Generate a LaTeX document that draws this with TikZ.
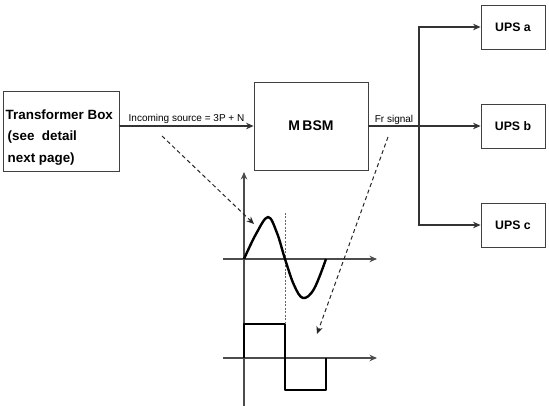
\documentclass[tikz,border=0pt]{standalone}
\usepackage{fontspec}
\setmainfont{Liberation Sans}
\usetikzlibrary{arrows.meta}
\tikzset{
  box/.style={draw=black!75, line width=0.9pt, rectangle, inner sep=0pt},
  conn/.style={draw=black!80, line width=1.2pt, -{Stealth[length=7.5pt,width=6.5pt]}},
  dasharrow/.style={draw=black!85, line width=1pt, dash pattern=on 4pt off 3pt, -{Stealth[length=7.5pt,width=6.5pt]}},
  axis/.style={draw=black!70, line width=1.1pt, -{Stealth[length=7.5pt,width=6.5pt]}},
  wave/.style={draw=black, line width=2.4pt, line join=round},
  lbl/.style={font=\fontsize{10}{12}\selectfont, inner sep=1pt},
  bigtxt/.style={font=\bfseries\fontsize{12.3}{14}\selectfont}
}
\begin{document}
\begin{tikzpicture}[x=1pt,y=-1pt]
\useasboundingbox (0,0) rectangle (549,406);
% boxes
\node[box, minimum width=116pt, minimum height=80pt] (tb) at (61,131) {};
\node[anchor=west, align=left, inner sep=0pt, font=\bfseries\fontsize{13.4}{21.5}\selectfont] (tbt) at (5.5,137.5)
  {Transformer Box\\\hspace{2pt}(see\ \ detail\\\hspace{2pt}next page)};
\node[box, minimum width=114pt, minimum height=88pt, font=\bfseries\fontsize{14}{16}\selectfont] (mbsm) at (311,126) {M\,BSM};
\node[box, minimum width=64pt, minimum height=44pt, bigtxt] (upsa) at (513,27) {UPS a};
\node[box, minimum width=64pt, minimum height=44pt, bigtxt] (upsb) at (513,126) {UPS b};
\node[box, minimum width=64pt, minimum height=44pt, bigtxt] (upsc) at (513,225) {UPS c};
% connectors
\draw[conn] (tb.east |- mbsm.west) -- node[lbl, above, pos=0.5, yshift=1pt] (inlbl) {Incoming source = 3P + N} (mbsm.west);
\coordinate (j) at (419,126);
\draw[conn] (mbsm.east) -- (upsb.west);
\node[lbl, above] (frlbl) at (394,126) {Fr signal};
\draw[conn] (j) |- (upsa.west);
\draw[conn] (j) |- (upsc.west);
% waveforms
\coordinate (o1) at (244,259);
\coordinate (o2) at (244,358);
\draw[axis] (244,406) -- (244,172);
\draw[axis] (223,259) -- (377,259);
\draw[axis] (223,358) -- (377,358);
\draw[draw=black!60, line width=0.8pt, dash pattern=on 2pt off 1.5pt] (285,213) -- (285,323);
\draw[wave] plot[smooth, tension=0.6] coordinates {(244,259) (256,234) (268,217) (277,233) (285,259) (294,285) (303,298) (314,289) (326,259)};
\draw[wave] (244,358) -- (244,324) -- (285,324) -- (285,390) -- (326,390) -- (326,358);
% dashed arrows
\coordinate (d1s) at (162,136);
\coordinate (d1e) at (254,224);
\coordinate (d2s) at (388,137);
\coordinate (d2e) at (317,334);
\draw[dasharrow] (d1s) -- (d1e);
\draw[dasharrow] (d2s) -- (d2e);
\end{tikzpicture}
\end{document}
